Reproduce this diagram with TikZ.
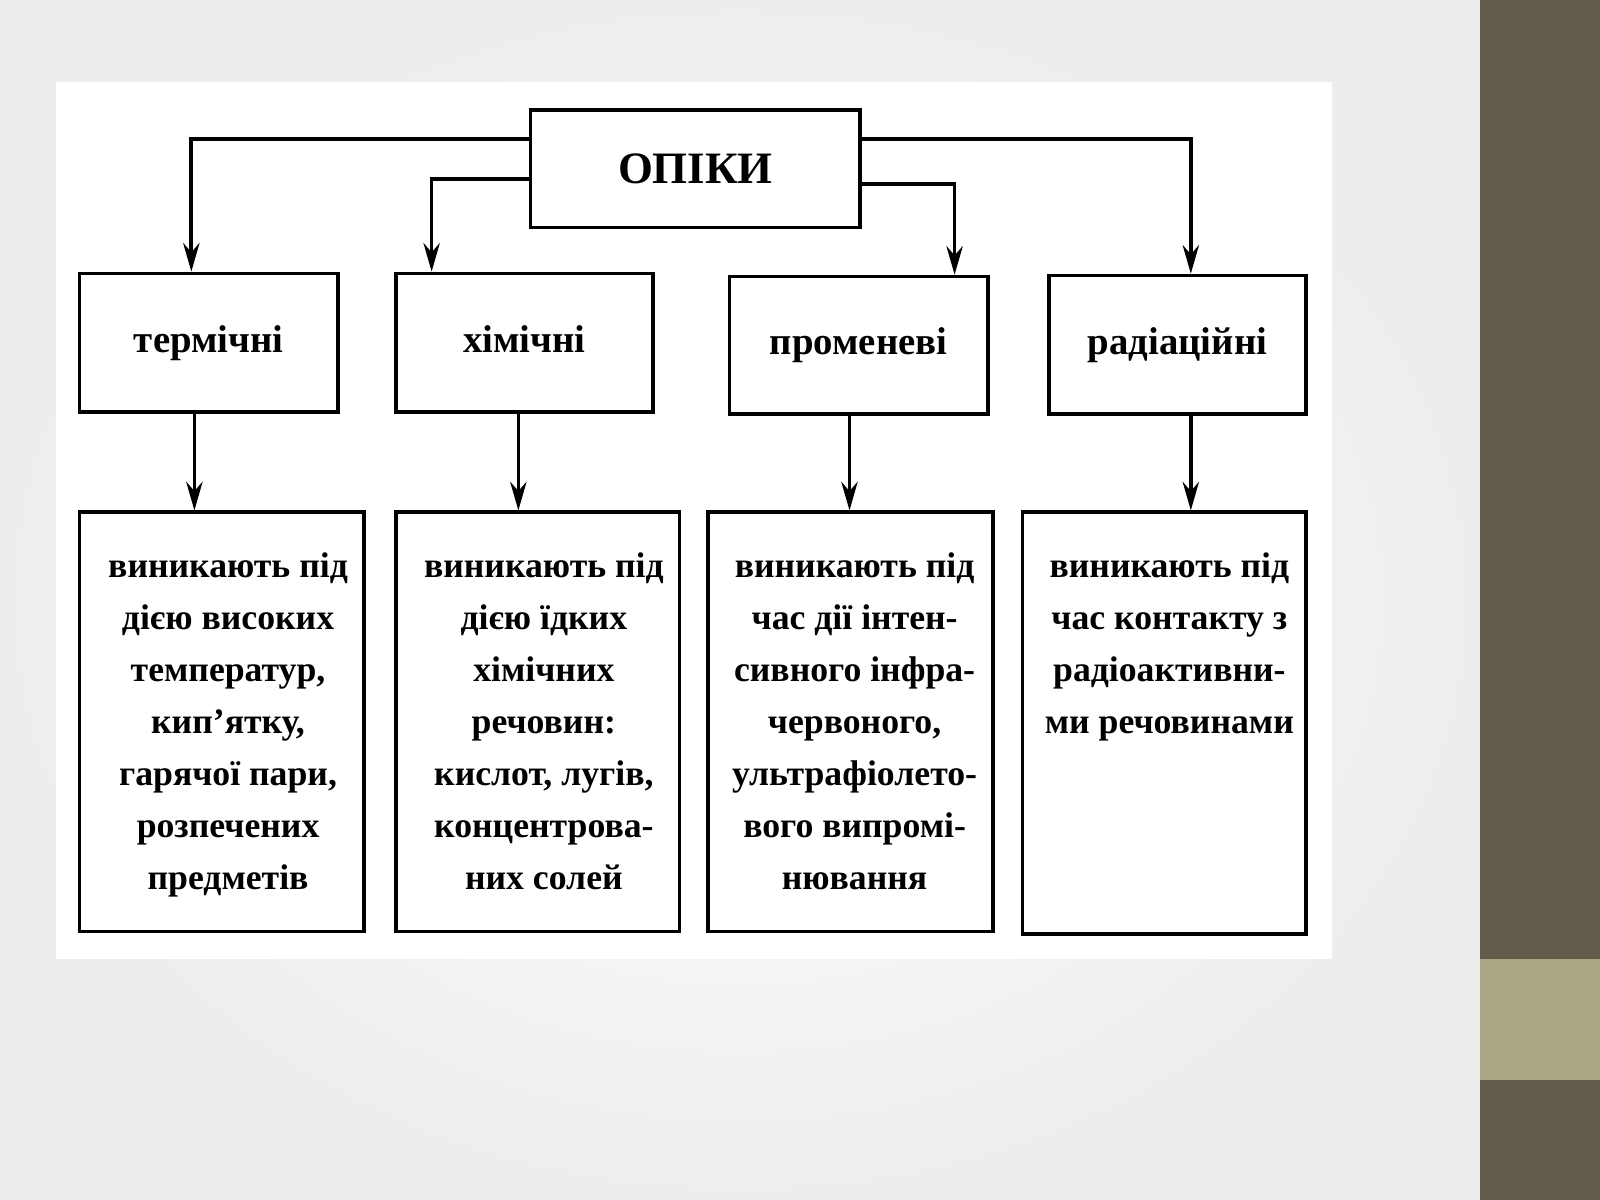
\documentclass[tikz,border=0pt]{standalone}
\usepackage{fontspec}
\setmainfont{Liberation Serif}
\usetikzlibrary{arrows.meta,calc}
\begin{document}
\begin{tikzpicture}[x=0.5pt,y=-0.5pt,
  box/.style={draw=black,line width=1.8pt,fill=white,inner sep=0pt},
  txt/.style={font=\bfseries\fontsize{17.5}{25.5}\selectfont,align=center,anchor=north,inner sep=0pt},
  head/.style={font=\bfseries\fontsize{19}{22}\selectfont,text height=13pt,text depth=4pt},
  arr/.style={line width=1.8pt,-{Stealth[length=14pt,width=8pt]}}]
\useasboundingbox (0,0) rectangle (1568,1176);
\shade[inner color=white,outer color=black!7] (0,0) rectangle (1450,1176);
\fill[fill={rgb,255:red,98;green,92;blue,74}] (1450,0) rectangle (1568,1176);
\fill[fill={rgb,255:red,171;green,169;blue,133}] (1450,940) rectangle (1568,1058);
\fill[white] (55,80) rectangle (1305,940);
\node[box,minimum width=161.5pt,minimum height=57.5pt,font=\bfseries\fontsize{22}{24}\selectfont] (op) at (681.5,165.5) {ОПІКИ};
\node[box,head,minimum width=126.5pt,minimum height=68pt] (t1) at (204.5,336) {термічні};
\node[box,head,minimum width=126pt,minimum height=68pt] (t2) at (514,336) {хімічні};
\node[box,head,minimum width=126.5pt,minimum height=67.5pt] (t3) at (841.5,338.5) {променеві};
\node[box,head,minimum width=126pt,minimum height=68pt] (t4) at (1154,338) {радіаційні};
\node[box,minimum width=139.5pt,minimum height=205.5pt] (b1) at (217.5,707.5) {};
\node[box,minimum width=139pt,minimum height=205.5pt] (b2) at (527,707.5) {};
\node[box,minimum width=139.5pt,minimum height=205.5pt] (b3) at (833.5,707.5) {};
\node[box,minimum width=139pt,minimum height=206.5pt] (b4) at (1141,708.5) {};
\node[txt] (x1) at ($(b1.north)+(6,41)$) {виникають під\\дією високих\\температур,\\кип’ятку,\\гарячої пари,\\розпечених\\предметів};
\node[txt] (x2) at ($(b2.north)+(6,41)$) {виникають під\\дією їдких\\хімічних\\речовин:\\кислот, лугів,\\концентрова-\\них солей};
\node[txt] (x3) at ($(b3.north)+(4,41)$) {виникають під\\час дії інтен-\\сивного інфра-\\червоного,\\ультрафіолето-\\вого випромі-\\нювання};
\node[txt] (x4) at ($(b4.north)+(5,41)$) {виникають під\\час контакту з\\радіоактивни-\\ми речовинами};
\draw[arr] ($(op.north west)+(0,30)$) -| ($(t1.north)+(-17,0)$);
\draw[arr] ($(op.north west)+(0,69)$) -| ($(t2.north)+(-91,0)$);
\draw[arr] ($(op.north east)+(0,74)$) -| ($(t3.north)+(94,0)$);
\draw[arr] ($(op.north east)+(0,30)$) -| ($(t4.north)+(13,0)$);
\draw[arr] ($(t1.south)+(-14,0)$) -- ($(b1.north)+(-27,0)$);
\draw[arr] ($(t2.south)+(-6,0)$) -- ($(b2.north)+(-19,0)$);
\draw[arr] ($(t3.south)+(-9,0)$) -- ($(b3.north)+(-1,0)$);
\draw[arr] ($(t4.south)+(13,0)$) -- ($(b4.north)+(26,0)$);
\end{tikzpicture}
\end{document}
